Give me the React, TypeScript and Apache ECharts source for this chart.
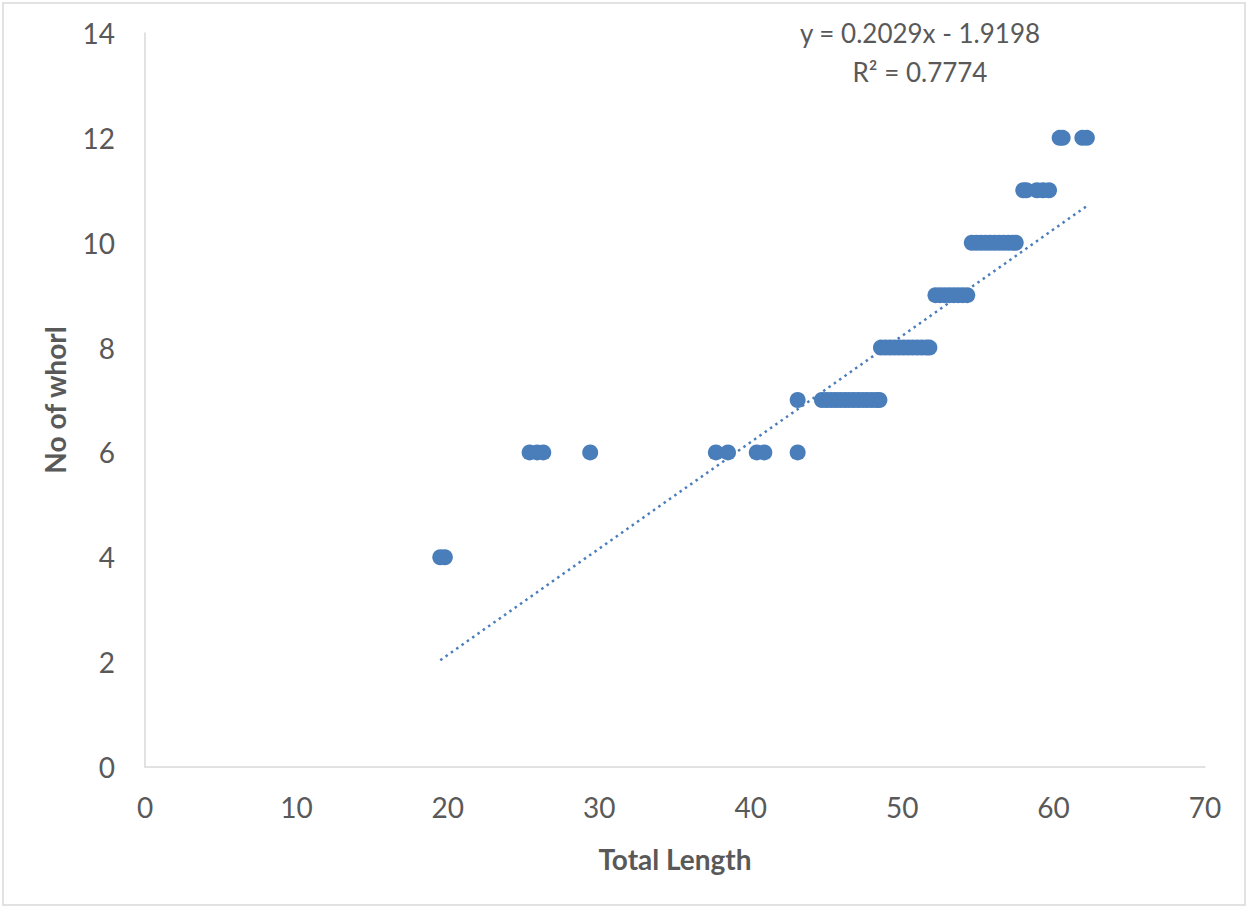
import React, { useEffect, useRef } from "react";
import * as echarts from "echarts";

const xTicks = [0, 10, 20, 30, 40, 50, 60, 70];
const yTicks = [0, 2, 4, 6, 8, 10, 12, 14];

const whorl4 = [19.5, 19.8];
const whorl6 = [25.4, 25.9, 26.3, 29.4, 37.7, 38.5, 40.4, 40.9, 43.1];
const whorl7 = [43.1, 44.7, 45.0, 45.3, 45.6, 45.9, 46.2, 46.5, 46.8, 47.1, 47.4, 47.7, 48.0, 48.3, 48.5];
const whorl8 = [48.6, 48.9, 49.2, 49.5, 49.8, 50.1, 50.4, 50.7, 51.0, 51.3, 51.6, 51.8];
const whorl9 = [52.2, 52.5, 52.8, 53.1, 53.4, 53.7, 54.0, 54.3];
const whorl10 = [54.6, 54.9, 55.2, 55.5, 55.8, 56.1, 56.4, 56.7, 57.0, 57.3, 57.5];
const whorl11 = [58.0, 58.2, 58.9, 59.3, 59.7];
const whorl12 = [60.4, 60.6, 61.9, 62.2];

const slope = 0.2029;
const intercept = -1.9198;
const equationText = "y = 0.2029x - 1.9198";
const r2Text = "R² = 0.7774";

const groups: [number, number[]][] = [
  [4, whorl4],
  [6, whorl6],
  [7, whorl7],
  [8, whorl8],
  [9, whorl9],
  [10, whorl10],
  [11, whorl11],
  [12, whorl12],
];

export default function App() {
  const ref = useRef<HTMLDivElement>(null);
  useEffect(() => {
    if (!ref.current) return;
    const chart = echarts.init(ref.current, null, { renderer: "svg" });
    const points: number[][] = [];
    groups.forEach(([y, xs]) => xs.forEach((x) => points.push([x, y])));
    const allX = points.map((p) => p[0]);
    const xMin = Math.min(...allX);
    const xMax = Math.max(...allX);
    const trend = [
      [xMin, slope * xMin + intercept],
      [xMax, slope * xMax + intercept],
    ];
    const font = "Lato, 'Open Sans', sans-serif";
    const gray = "#595959";
    chart.setOption({
      animation: false,
      backgroundColor: "#ffffff",
      grid: { left: 145, right: 44, top: 33, bottom: 142 },
      xAxis: {
        type: "value",
        min: xTicks[0],
        max: xTicks[xTicks.length - 1],
        interval: 10,
        name: "Total Length",
        nameLocation: "middle",
        nameGap: 78,
        nameTextStyle: { fontFamily: font, fontSize: 28, fontWeight: "bold", color: gray },
        axisLine: { show: true, lineStyle: { color: "#d9d9d9", width: 1.5 } },
        axisTick: { show: false },
        splitLine: { show: false },
        axisLabel: { fontFamily: font, fontSize: 28, color: gray, margin: 26 },
      },
      yAxis: {
        type: "value",
        min: yTicks[0],
        max: yTicks[yTicks.length - 1],
        interval: 2,
        name: "No of whorl",
        nameLocation: "middle",
        nameGap: 76,
        nameRotate: 90,
        nameTextStyle: { fontFamily: font, fontSize: 28, fontWeight: "bold", color: gray },
        axisLine: { show: true, lineStyle: { color: "#d9d9d9", width: 1.5 } },
        axisTick: { show: false },
        splitLine: { show: false },
        axisLabel: { fontFamily: font, fontSize: 28, color: gray, margin: 30 },
      },
      graphic: [
        {
          type: "rect",
          shape: { x: 3, y: 3, width: 1242, height: 902 },
          style: { fill: "none", stroke: "#d9d9d9", lineWidth: 1.5 },
          silent: true,
        },
        {
          type: "text",
          x: 920,
          y: 33,
          style: {
            text: equationText,
            fontFamily: font,
            fontSize: 26,
            fill: gray,
            align: "center",
            verticalAlign: "middle",
          },
        },
        {
          type: "text",
          x: 920,
          y: 72,
          style: {
            text: r2Text,
            fontFamily: font,
            fontSize: 26,
            fill: gray,
            align: "center",
            verticalAlign: "middle",
          },
        },
      ],
      series: [
        {
          type: "scatter",
          data: points,
          symbol: "circle",
          symbolSize: 16,
          itemStyle: { color: "#4A7EBB", opacity: 1 },
          z: 3,
        },
        {
          type: "line",
          data: trend,
          symbol: "none",
          lineStyle: { color: "#4A7EBB", width: 2.5, type: [2.5, 4] },
          z: 2,
        },
      ],
    });
    return () => chart.dispose();
  }, []);
  return (
    <div
      ref={ref}
      style={{ position: "fixed", left: 0, top: 0, width: 1249, height: 909 }}
    />
  );
}
